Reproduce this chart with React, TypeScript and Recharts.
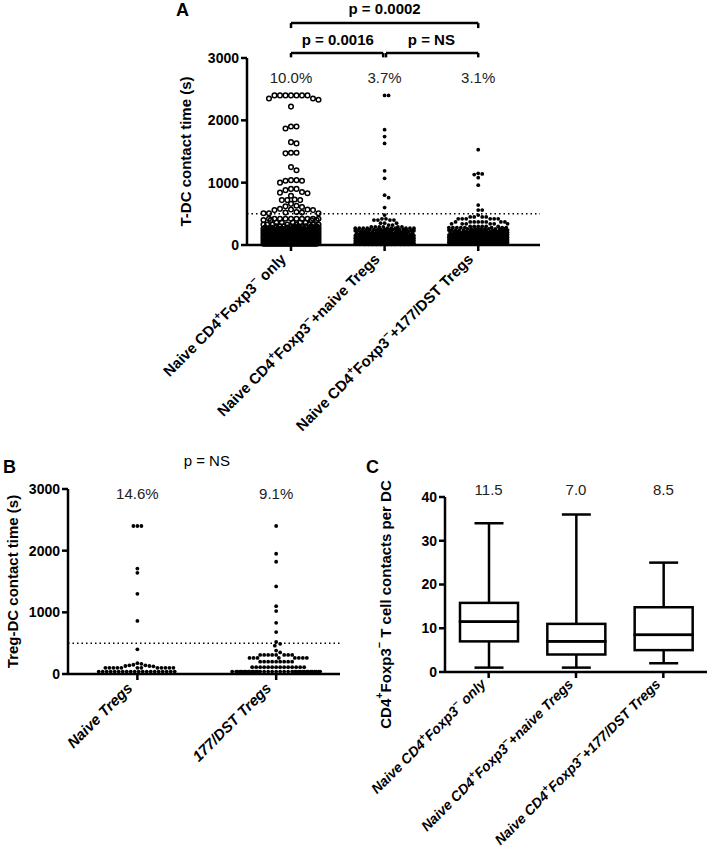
import React from 'react';
import {
  ScatterChart, Scatter, XAxis, YAxis, ReferenceLine, ReferenceDot, BarChart, Bar,
} from 'recharts';

const FONT = '"Liberation Sans", Arial, Helvetica, sans-serif';

// ---- panel A: T-DC contact time (s)
const aLabels = ['Naive CD4^+Foxp3^- only', 'Naive CD4^+Foxp3^-+naive Tregs', 'Naive CD4^+Foxp3^-+177/DST Tregs'];
const aPercents = ['10.0%', '3.7%', '3.1%'];
const aOnlyHigh = [2400, 2400, 2400, 2400, 2400, 2400, 2400, 2350, 2330, 2350, 2220, 1900, 1870, 1900, 1650, 1630,
  1480, 1470, 1480, 1250, 1200, 1040, 1030, 1030, 1040, 1000, 900, 880, 900, 840, 830, 850, 790, 720, 720, 730, 720,
  660, 620, 630, 610, 570, 560, 570, 560, 580, 510, 510, 520, 520, 530, 510];
const aOnlyLow: [number, number][] = [[420, 10], [400, 4], [360, 5], [330, 8], [300, 10], [280, 10], [260, 12], [240, 14],
  [220, 16], [200, 18], [180, 20], [160, 22], [140, 24], [120, 26], [100, 28], [80, 30], [60, 30], [40, 30], [20, 30]];
const aNaiveHigh = [2400, 2400, 1850, 1740, 1630, 1190, 1070, 800, 760, 600];
const aNaiveLow: [number, number][] = [[480, 1], [420, 2], [400, 4], [350, 3], [320, 2], [290, 6], [270, 10], [250, 10],
  [230, 12], [210, 12], [190, 14], [170, 14], [150, 16], [130, 16], [110, 18], [90, 18], [70, 20], [50, 20], [30, 20], [10, 12]];
const aDstHigh = [1530, 1150, 1130, 1140, 1080, 960, 640, 560, 560];
const aDstLow: [number, number][] = [[480, 1], [450, 4], [420, 6], [370, 8], [340, 6], [300, 6], [280, 8], [260, 10],
  [240, 12], [220, 12], [200, 14], [180, 14], [160, 16], [140, 16], [120, 18], [100, 18], [80, 18], [60, 20], [40, 20], [20, 20]];

// ---- panel B: Treg-DC contact time (s)
const bLabels = ['Naive Tregs', '177/DST Tregs'];
const bPercents = ['14.6%', '9.1%'];
const bNaive = [2400, 2400, 2400, 1710, 1640, 1300, 860, 400, 175, 165, 150, 140, 130, 125, 130, 140];
const bNaiveLow: [number, number][] = [[100, 12], [40, 20]];
const bDst = [2400, 1950, 1820, 1420, 1100, 1020, 830, 680, 520, 490, 460, 380, 350];
const bDstLow: [number, number][] = [[310, 8], [260, 8], [200, 9], [110, 14], [40, 36]];

// ---- panel C: contacts per DC (box & whiskers)
const cCategories = ['Naive CD4^+Foxp3^- only', 'Naive CD4^+Foxp3^-+naive Tregs', 'Naive CD4^+Foxp3^-+177/DST Tregs'];
const cMedianText = ['11.5', '7.0', '8.5'];
const cMin = [1, 1, 2];
const cQ1 = [7, 4, 5];
const cMedian = [11.5, 7, 8.5];
const cQ3 = [15.8, 11, 14.8];
const cMax = [34, 36, 25];

const expand = (levels: [number, number][]) => levels.flatMap(([v, n]) => Array(n).fill(v));

// deterministic beeswarm: offsets in px for each value
function swarm(values: number[], pxY: number, diam: number, maxHalf: number) {
  const order = values.map((_, i) => i).sort((a, b) => values[b] - values[a]);
  const placed: { x: number; y: number }[] = [];
  const out = new Array(values.length).fill(0);
  const step = diam / 3;
  const K = Math.floor(maxHalf / step);
  const cands = [0];
  for (let k = 1; k <= K; k++) cands.push(k * step, -k * step);
  for (const idx of order) {
    const y = values[idx] * pxY;
    const near = placed.filter(p => Math.abs(p.y - y) < diam);
    let chosen: number | null = null;
    let best = 0;
    let bestD = -1;
    for (const c of cands) {
      let md = Infinity;
      for (const p of near) md = Math.min(md, Math.hypot(c - p.x, y - p.y));
      if (md >= diam * 0.95) { chosen = c; break; }
      if (md > bestD) { bestD = md; best = c; }
    }
    const x = chosen ?? best;
    placed.push({ x, y });
    out[idx] = x;
  }
  return out;
}

const toPoints = (vals: number[], cat: number, pxX: number, pxY: number, diam: number, half: number) => {
  const off = swarm(vals, pxY, diam, half);
  return vals.map((v, i) => ({ x: cat + off[i] / pxX, y: v }));
};

// layout
const A_W = 293, A_H = 187, A_DOM: [number, number] = [0.53, 3.66];
const B_W = 272, B_H = 185, B_DOM: [number, number] = [0.5, 2.46];
const aPxX = A_W / (A_DOM[1] - A_DOM[0]);
const bPxX = B_W / (B_DOM[1] - B_DOM[0]);

const aOnlyPts = toPoints([...aOnlyHigh, ...expand(aOnlyLow)], 1, aPxX, A_H / 3000, 5.5, 29);
const aNaivePts = toPoints([...aNaiveHigh, ...expand(aNaiveLow)], 2, aPxX, A_H / 3000, 4, 30);
const aDstPts = toPoints([...aDstHigh, ...expand(aDstLow)], 3, aPxX, A_H / 3000, 4, 30);
const bNaivePts = toPoints([...bNaive, ...expand(bNaiveLow)], 1, bPxX, B_H / 3000, 4, 45);
const bDstPts = toPoints([...bDst, ...expand(bDstLow)], 2, bPxX, B_H / 3000, 4, 46);

const boxData = cCategories.map((name, i) => ({
  name,
  base: cMin[i],
  lowW: cQ1[i] - cMin[i],
  lowBox: cMedian[i] - cQ1[i],
  highBox: cQ3[i] - cMedian[i],
  highW: cMax[i] - cQ3[i],
}));

function rich(text: string, fs: number) {
  const parts = text.split(/(\^[+-])/).filter(Boolean);
  const out: React.ReactNode[] = [];
  let shift = 0;
  parts.forEach((p, i) => {
    if (p.startsWith('^')) {
      out.push(<tspan key={i} dy={-fs * 0.42 - shift} fontSize={fs * 0.72}>{p[1] === '-' ? '\u2212' : '+'}</tspan>);
      shift = -fs * 0.42;
    } else {
      out.push(<tspan key={i} dy={-shift}>{p}</tspan>);
      shift = 0;
    }
  });
  return out;
}

const RotTick = (props: any) => {
  const { x, y, payload, labels, italic, size, dx = -4, dy = 7 } = props;
  const text = typeof payload.value === 'number' ? labels[Math.round(payload.value) - 1] : payload.value;
  return (
    <g transform={`translate(${x + dx},${y + dy})`}>
      <text x={0} y={0} dy="0.72em" textAnchor="end" transform="rotate(-45)" fontFamily={FONT}
        fontWeight="bold" fontStyle={italic ? 'italic' : 'normal'} fontSize={size} fill="#000">
        {rich(text, size)}
      </text>
    </g>
  );
};

const yTitle = (text: string, dx: number, dy = 0) => (p: any) => {
  const vb = p.viewBox || { x: 0, y: 0, width: 0, height: 0 };
  const cx = vb.x + dx;
  const cy = vb.y + vb.height / 2 + dy;
  return (
    <text x={cx} y={cy} transform={`rotate(-90 ${cx} ${cy})`} textAnchor="middle" dominantBaseline="central"
      fontFamily={FONT} fontWeight="bold" fontSize={15} fill="#000">{rich(text, 15)}</text>
  );
};

const note = (text: string, size: number, bold: boolean, color = '#000') => (p: any) => {
  const vb = p.viewBox || { x: 0, y: 0 };
  return (
    <text x={vb.x} y={vb.y} textAnchor="middle" dominantBaseline="central" fontFamily={FONT}
      fontWeight={bold ? 'bold' : 'normal'} fontSize={size} fill={color}>{text}</text>
  );
};

const axisStyle = { stroke: '#000', strokeWidth: 2.5 };
const yTick = { fontFamily: FONT, fontWeight: 'bold', fontSize: 14, fill: '#000' };

const openDot = (p: any) => <circle cx={p.cx} cy={p.cy} r={2.3} fill="none" stroke="#000" strokeWidth={1.5} />;
const fillDot = (p: any) => <circle cx={p.cx} cy={p.cy} r={1.9} fill="#000" />;

const seg = (x1: number, y1: number, x2: number, y2: number, k: string) => (
  <ReferenceLine key={k} segment={[{ x: x1, y: y1 }, { x: x2, y: y2 }]} stroke="#000" strokeWidth={2.5} ifOverflow="visible" />
);

const bracket = (x1: number, x2: number, yTop: number, yEnd: number, k: string) => [
  seg(x1, yTop, x2, yTop, k + 'h'),
  seg(x1, yTop, x1, yEnd, k + 'l'),
  seg(x2, yTop, x2, yEnd, k + 'r'),
];

const WhiskerLow = (p: any) => {
  const cx = p.x + p.width / 2;
  const yb = p.y + p.height;
  return (
    <g stroke="#000" strokeWidth={2.5}>
      <line x1={cx} x2={cx} y1={p.y} y2={yb} />
      <line x1={cx - 14.5} x2={cx + 14.5} y1={yb} y2={yb} />
    </g>
  );
};
const WhiskerHigh = (p: any) => {
  const cx = p.x + p.width / 2;
  return (
    <g stroke="#000" strokeWidth={2.5}>
      <line x1={cx} x2={cx} y1={p.y} y2={p.y + p.height} />
      <line x1={cx - 14.5} x2={cx + 14.5} y1={p.y} y2={p.y} />
    </g>
  );
};
const BoxPart = (p: any) => (
  <rect x={p.x} y={p.y} width={p.width} height={p.height} fill="none" stroke="#000" strokeWidth={2.5} />
);

const letter = (t: string, left: number, top: number) => (
  <div style={{ position: 'absolute', left, top, fontFamily: FONT, fontWeight: 'bold', fontSize: 18, lineHeight: '20px' }}>{t}</div>
);

export default function App() {
  return (
    <div style={{ position: 'absolute', left: 0, top: 0, width: 709, height: 853, background: '#fff' }}>
      <div style={{ position: 'absolute', left: 0, top: 0 }}>
        <ScatterChart width={560} height={440} margin={{ top: 58, right: 20, bottom: 0, left: 0 }}>
          <XAxis type="number" dataKey="x" domain={A_DOM} ticks={[1, 2, 3]} allowDataOverflow interval={0}
            height={195} axisLine={axisStyle} tickLine={axisStyle} tickSize={6}
            tick={(p: any) => <RotTick {...p} labels={aLabels} size={15} />} />
          <YAxis type="number" dataKey="y" domain={[0, 3000]} ticks={[0, 1000, 2000, 3000]} width={247}
            axisLine={axisStyle} tickLine={axisStyle} tickSize={6} tick={yTick}
            label={yTitle('T-DC contact time (s)', 185)} />
          <ReferenceLine y={500} stroke="#000" strokeWidth={1.5} strokeDasharray="1.5 3" />
          <Scatter data={aOnlyPts} shape={openDot} isAnimationActive={false} />
          <Scatter data={aNaivePts} shape={fillDot} isAnimationActive={false} />
          <Scatter data={aDstPts} shape={fillDot} isAnimationActive={false} />
          {bracket(1, 1.985, 3080, 3010, 'b1')}
          {bracket(2.015, 3, 3080, 3010, 'b2')}
          {bracket(1, 3, 3560, 3480, 'b3')}
          <ReferenceDot x={1.5} y={3300} r={0} ifOverflow="visible" label={note('p = 0.0016', 15, true)} />
          <ReferenceDot x={2.5} y={3300} r={0} ifOverflow="visible" label={note('p = NS', 15, true)} />
          <ReferenceDot x={2} y={3790} r={0} ifOverflow="visible" label={note('p = 0.0002', 15, true)} />
          {aPercents.map((t, i) => (
            <ReferenceDot key={t} x={i + 1} y={2695} r={0} ifOverflow="visible" label={note(t, 15, false, '#222')} />
          ))}
        </ScatterChart>
      </div>

      <div style={{ position: 'absolute', left: 0, top: 440 }}>
        <ScatterChart width={345} height={413} margin={{ top: 49, right: 5, bottom: 0, left: 0 }}>
          <XAxis type="number" dataKey="x" domain={B_DOM} ticks={[1, 2]} allowDataOverflow interval={0}
            height={179} axisLine={axisStyle} tickLine={axisStyle} tickSize={6}
            tick={(p: any) => <RotTick {...p} labels={bLabels} size={15} italic />} />
          <YAxis type="number" dataKey="y" domain={[0, 3000]} ticks={[0, 1000, 2000, 3000]} width={68}
            axisLine={axisStyle} tickLine={axisStyle} tickSize={6} tick={yTick}
            label={yTitle('Treg-DC contact time (s)', 12)} />
          <ReferenceLine y={500} stroke="#000" strokeWidth={1.5} strokeDasharray="1.5 3" />
          <Scatter data={bNaivePts} shape={fillDot} isAnimationActive={false} />
          <Scatter data={bDstPts} shape={fillDot} isAnimationActive={false} />
          <ReferenceDot x={1.5} y={3470} r={0} ifOverflow="visible" label={note('p = NS', 15, false)} />
          {bPercents.map((t, i) => (
            <ReferenceDot key={t} x={i + 1} y={2935} r={0} ifOverflow="visible" label={note(t, 15, false, '#222')} />
          ))}
        </ScatterChart>
      </div>

      <div style={{ position: 'absolute', left: 345, top: 440 }}>
        <BarChart width={364} height={413} data={boxData} margin={{ top: 57, right: 2, bottom: 0, left: 0 }} barSize={58}>
          <XAxis dataKey="name" height={181} interval={0} axisLine={axisStyle} tickLine={axisStyle} tickSize={6}
            tick={(p: any) => <RotTick {...p} labels={cCategories} size={14} italic dx={-2} dy={5} />} />
          <YAxis type="number" domain={[0, 40]} ticks={[0, 10, 20, 30, 40]} width={100}
            axisLine={axisStyle} tickLine={axisStyle} tickSize={6} tick={yTick}
            label={yTitle('CD4^+Foxp3^- T cell contacts per DC', 40, 20)} />
          <Bar dataKey="base" stackId="box" fill="none" shape={() => <g />} isAnimationActive={false} />
          <Bar dataKey="lowW" stackId="box" shape={WhiskerLow} isAnimationActive={false} />
          <Bar dataKey="lowBox" stackId="box" shape={BoxPart} isAnimationActive={false} />
          <Bar dataKey="highBox" stackId="box" shape={BoxPart} isAnimationActive={false} />
          <Bar dataKey="highW" stackId="box" shape={WhiskerHigh} isAnimationActive={false} />
          {cMedianText.map((t, i) => (
            <ReferenceDot key={t} x={cCategories[i]} y={41.8} r={0} ifOverflow="visible" label={note(t, 15, false, '#222')} />
          ))}
        </BarChart>
      </div>

      {letter('A', 176, 0)}
      {letter('B', 3, 457)}
      {letter('C', 366, 457)}
    </div>
  );
}
